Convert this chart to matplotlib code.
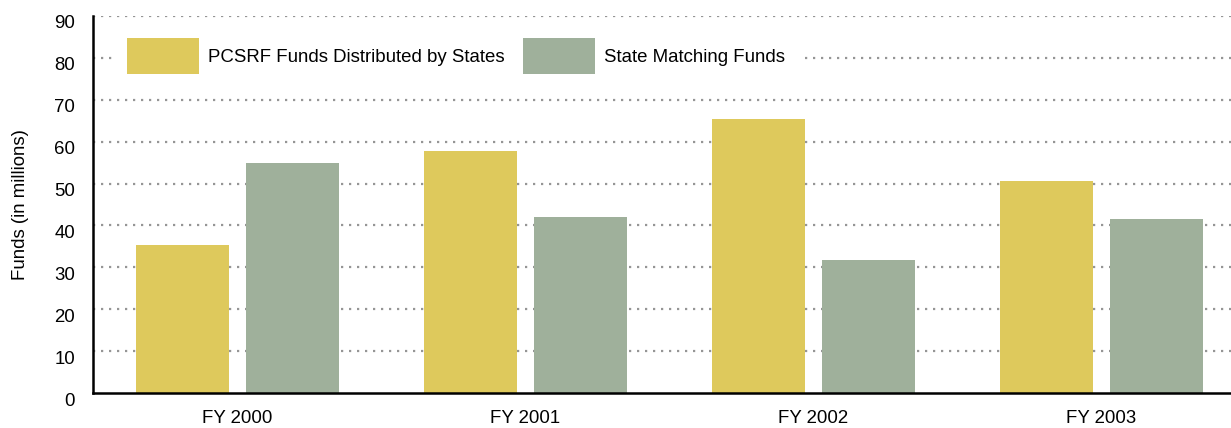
import matplotlib
matplotlib.use('Agg')
import matplotlib.pyplot as plt
import matplotlib.transforms as mtransforms
import numpy as np

# data
years = ['FY 2000', 'FY 2001', 'FY 2002', 'FY 2003']
pcsrf_funds = [35.3, 57.8, 65.4, 50.6]
state_matching = [54.9, 42.0, 31.7, 41.5]
series_names = ['PCSRF Funds Distributed by States', 'State Matching Funds']
yticks = list(range(0, 100, 10))

yellow = '#DEC95C'
green = '#9FB09B'

plt.rcParams['font.family'] = ['Liberation Sans', 'DejaVu Sans']
fs = 13.4

fig = plt.figure(figsize=(12.31, 4.28), dpi=100)
ax = fig.add_axes([93 / 1231, 1 - 393 / 428, 1 - 93 / 1231, 377 / 428])

x = np.arange(len(years))
w = 93 / 288
off = 55 / 288
ax.bar(x - off, pcsrf_funds, w, color=yellow, label=series_names[0], zorder=3)
ax.bar(x + off, state_matching, w, color=green, label=series_names[1], zorder=3)

ax.set_xlim(-0.502, 3.45)
ax.set_ylim(0, 90)
ax.set_yticks(yticks)
ax.set_xticks(x)
ax.set_xticklabels(years)
ax.tick_params(axis='both', length=0, labelsize=fs)
ax.tick_params(axis='y', pad=13)
ax.tick_params(axis='x', pad=12)

# y labels sit a little below their gridlines in the original
shift = mtransforms.ScaledTranslation(0, -6 / 100, fig.dpi_scale_trans)
for lab in ax.get_yticklabels():
    lab.set_transform(lab.get_transform() + shift)

# dotted grid
for v in yticks[1:]:
    ax.axhline(v, color='#959595', lw=1.6, ls=(0, (1, 2.6)), zorder=1)

for s in ['top', 'right']:
    ax.spines[s].set_visible(False)
for s in ['left', 'bottom']:
    ax.spines[s].set_linewidth(1.8)
    ax.spines[s].set_color('black')
    ax.spines[s].set_zorder(4)

ax.set_ylabel('Funds (in millions)', fontsize=fs)
ax.yaxis.set_label_coords(-64 / 1138, 0.5)

leg = ax.legend(loc='center left', bbox_to_anchor=(19 / 1138, (393 - 56) / 377),
                ncol=2, frameon=True, fancybox=False, framealpha=1,
                handlelength=3.9, handleheight=2.6, handletextpad=0.48,
                columnspacing=0.95, borderpad=0.8, borderaxespad=0, fontsize=fs)
leg.get_frame().set_linewidth(0)
leg.get_frame().set_facecolor('white')
leg.set_zorder(5)

fig.savefig('out.png', dpi=100)
